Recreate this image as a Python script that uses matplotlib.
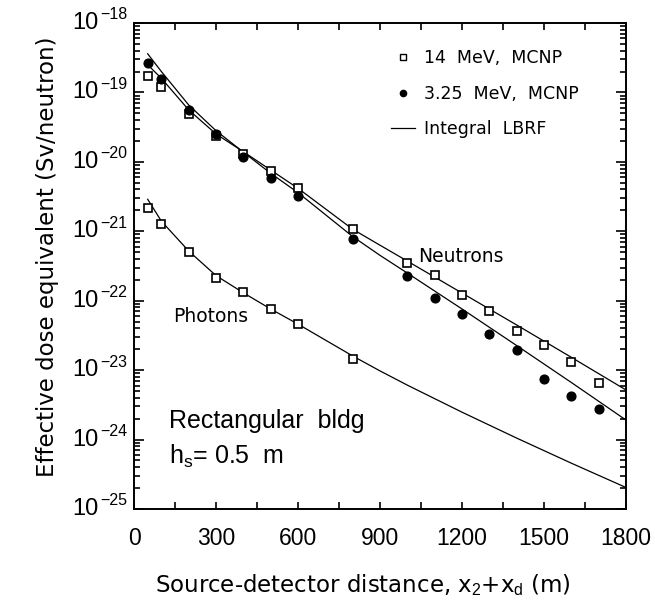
import matplotlib
matplotlib.use("Agg")
import matplotlib.pyplot as plt
from matplotlib.ticker import LogLocator, MultipleLocator, NullFormatter
from matplotlib.lines import Line2D
from matplotlib.transforms import offset_copy
import math

plt.rcParams['font.family'] = ['Liberation Sans', 'DejaVu Sans']
plt.rcParams['mathtext.fontset'] = 'custom'
plt.rcParams['mathtext.rm'] = 'Liberation Sans'
plt.rcParams['mathtext.it'] = 'Liberation Sans'
plt.rcParams['mathtext.bf'] = 'Liberation Sans'

# ---- data ----
x_n14 = [50, 100, 200, 300, 400, 500, 600, 800, 1000, 1100, 1200, 1300, 1400, 1500, 1600, 1700]
y_n14 = [1.74e-19, 1.21e-19, 4.94e-20, 2.38e-20, 1.31e-20, 7.38e-21, 4.16e-21, 1.09e-21,
         3.46e-22, 2.37e-22, 1.20e-22, 7.11e-23, 3.66e-23, 2.28e-23, 1.30e-23, 6.53e-24]

x_n325 = [50, 100, 200, 300, 400, 500, 600, 800, 1000, 1100, 1200, 1300, 1400, 1500, 1600, 1700]
y_n325 = [2.63e-19, 1.56e-19, 5.64e-20, 2.52e-20, 1.17e-20, 5.86e-21, 3.22e-21, 7.74e-22,
          2.27e-22, 1.09e-22, 6.37e-23, 3.35e-23, 1.93e-23, 7.46e-24, 4.20e-24, 2.75e-24]

x_ph = [50, 100, 200, 300, 400, 500, 600, 800]
y_ph = [2.14e-21, 1.26e-21, 5.08e-22, 2.12e-22, 1.35e-22, 7.52e-23, 4.57e-23, 1.46e-23]

# Integral LBRF curves
x_line = [50, 100, 200, 300, 400, 500, 600, 800, 900, 1000, 1200, 1400, 1600, 1800]
line_n14 = [2.5e-19, 1.6e-19, 5.6e-20, 2.52e-20, 1.4e-20, 7.63e-21, 4.16e-21, 1.07e-21,
            6.3e-22, 3.72e-22, 1.29e-22, 4.47e-23, 1.53e-23, 5.18e-24]
line_n325 = [3.6e-19, 2.0e-19, 6.6e-20, 2.81e-20, 1.38e-20, 6.84e-21, 3.6e-21, 8.4e-22,
             4.5e-22, 2.5e-22, 7.6e-23, 2.26e-23, 6.64e-24, 1.91e-24]
line_ph = [2.89e-21, 1.4e-21, 5.2e-22, 2.3e-22, 1.3e-22, 7.6e-23, 4.6e-23, 1.6e-23,
           9.75e-24, 6.08e-24, 2.48e-24, 1.05e-24, 4.57e-25, 2.04e-25]

legend_labels = ['14  MeV,  MCNP', '3.25  MeV,  MCNP', 'Integral  LBRF']
y_major = [1e-25, 1e-24, 1e-23, 1e-22, 1e-21, 1e-20, 1e-19, 1e-18]

fig = plt.figure(figsize=(6.55, 6.05), dpi=100)
ax = fig.add_axes([0.2046, 0.1587, 0.7511, 0.8033])

lw = 0.9
ax.plot(x_line, line_n14, color='black', lw=lw)
ax.plot(x_line, line_n325, color='black', lw=lw)
ax.plot(x_line, line_ph, color='black', lw=lw)

ax.plot(x_n14, y_n14, ls='none', marker='s', ms=6, mfc='white', mec='black', mew=1.2)
ax.plot(x_n325, y_n325, ls='none', marker='o', ms=6.3, mfc='black', mec='black')
ax.plot(x_ph, y_ph, ls='none', marker='s', ms=6, mfc='white', mec='black', mew=1.2)

ax.set_yscale('log')
ax.set_xlim(0, 1800)
ax.set_ylim(1e-25, 1e-18)

ax.xaxis.set_major_locator(MultipleLocator(300))
ax.xaxis.set_minor_locator(MultipleLocator(150))
ax.set_yticks(y_major)
ax.yaxis.set_minor_locator(LogLocator(base=10, subs=range(2, 10), numticks=20))
ax.yaxis.set_major_formatter(NullFormatter())
ax.yaxis.set_minor_formatter(NullFormatter())

ax.tick_params(axis='both', which='both', direction='in', top=True, right=True,
               width=1.2, labelsize=16.5)
ax.tick_params(axis='x', which='both', length=5, pad=13)
ax.tick_params(axis='y', which='major', length=7, pad=6)
ax.tick_params(axis='y', which='minor', length=4.5)
for s in ax.spines.values():
    s.set_linewidth(1.4)

# y tick labels: "10" centred on the tick, exponent raised
ytr = ax.get_yaxis_transform()
exp_tr = offset_copy(ytr, fig=fig, x=0, y=8, units='dots')
for v in y_major:
    e = int(round(math.log10(v)))
    ax.text(-0.073, v, '10', transform=ytr, ha='right', va='center', fontsize=17)
    ax.text(-0.069, v, '\u2212' + str(-e), transform=exp_tr, ha='left', va='center',
            fontsize=11.5)

ax.set_xlabel(r'Source-detector distance, x$_2$+x$_\mathrm{d}$ (m)', fontsize=16.5,
              labelpad=16, family='DejaVu Sans', x=0.465)
ax.set_ylabel('Effective dose equivalent (Sv/neutron)', fontsize=16.5, labelpad=48,
              family='DejaVu Sans', y=0.518)

ax.text(0.577, 0.509, 'Neutrons', transform=ax.transAxes, fontsize=13.5, va='baseline',
        family='DejaVu Sans')
ax.text(0.079, 0.385, 'Photons', transform=ax.transAxes, fontsize=13.5, va='baseline',
        family='DejaVu Sans')
ax.text(0.071, 0.166, 'Rectangular  bldg', transform=ax.transAxes, fontsize=18, va='baseline')
ax.text(0.071, 0.0926, r'h$_\mathrm{s}$= 0.5  m', transform=ax.transAxes, fontsize=18, va='baseline')

handles = [
    Line2D([], [], ls='none', marker='s', ms=4.5, mfc='white', mec='black', mew=1.0),
    Line2D([], [], ls='none', marker='o', ms=4.5, mfc='black', mec='black'),
    Line2D([], [], color='black', lw=lw),
]
ax.legend(handles, legend_labels, loc='upper left', bbox_to_anchor=(0.49, 0.978),
          frameon=False, handlelength=1.4, handletextpad=0.5,
          labelspacing=1.0, prop={'family': 'DejaVu Sans', 'size': 12.5})

fig.savefig('out.png', dpi=100)
